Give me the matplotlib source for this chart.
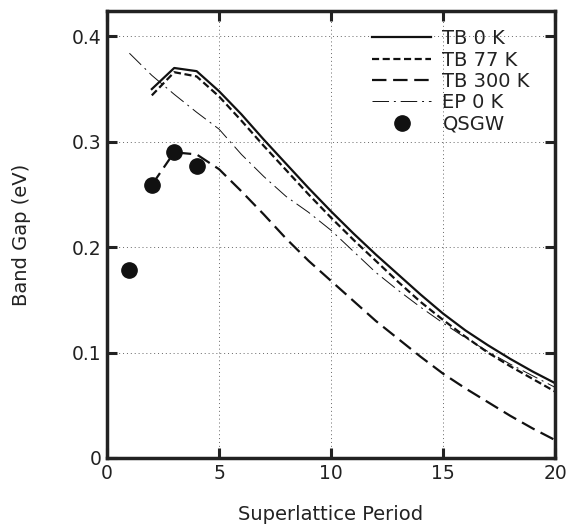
import matplotlib
matplotlib.use("Agg")
import matplotlib.pyplot as plt
from matplotlib.ticker import FuncFormatter

# Data
x_tb = [2, 3, 4, 5, 6, 7, 8, 9, 10, 11, 12, 13, 14, 15, 16, 17, 18, 19, 20]
tb_0k = [0.350, 0.370, 0.367, 0.348, 0.326, 0.302, 0.279, 0.256, 0.234, 0.213,
         0.193, 0.174, 0.155, 0.137, 0.121, 0.107, 0.094, 0.082, 0.071]
tb_77k = [0.344, 0.366, 0.362, 0.343, 0.320, 0.296, 0.273, 0.250, 0.228, 0.207,
          0.187, 0.167, 0.148, 0.131, 0.115, 0.100, 0.087, 0.075, 0.063]
tb_300k = [0.259, 0.290, 0.288, 0.274, 0.253, 0.231, 0.208, 0.187, 0.168, 0.149,
           0.130, 0.113, 0.096, 0.080, 0.066, 0.053, 0.040, 0.028, 0.017]
x_ep = [1, 2, 3, 4, 5, 6, 7, 8, 9, 10, 11, 12, 13, 14, 15, 16, 17, 18, 19, 20]
ep_0k = [0.384, 0.363, 0.345, 0.328, 0.312, 0.288, 0.267, 0.248, 0.233, 0.216,
         0.196, 0.176, 0.159, 0.143, 0.128, 0.114, 0.101, 0.089, 0.078, 0.067]
x_qsgw = [1, 2, 3, 4]
qsgw = [0.178, 0.259, 0.290, 0.277]

xticks = [0, 5, 10, 15, 20]
yticks = [0, 0.1, 0.2, 0.3, 0.4]

plt.rcParams['font.family'] = ['DejaVu Sans']
fig = plt.figure(figsize=(5.8, 5.27), dpi=100)
ax = fig.add_axes([0.1845, 0.131, 0.7725, 0.848])

ax.plot(x_tb, tb_0k, color='#111111', lw=1.6, ls='-', label='TB 0 K')
ax.plot(x_tb, tb_77k, color='#111111', lw=1.6, ls=(0, (3.2, 1.6)), label='TB 77 K')
ax.plot(x_tb, tb_300k, color='#111111', lw=1.6, ls=(0, (6.5, 3)), label='TB 300 K')
ax.plot(x_ep, ep_0k, color='#111111', lw=0.7, ls=(0, (17, 5, 2, 5)), label='EP 0 K')
ax.plot(x_qsgw, qsgw, ls='none', marker='o', ms=11, color='#111111', label='QSGW')

ax.set_xlim(0, 20)
ax.set_ylim(0, 0.424)
ax.set_xticks(xticks)
ax.set_yticks(yticks)
ax.yaxis.set_major_formatter(FuncFormatter(lambda v, p: '0' if v == 0 else f'{v:.1f}'))
ax.grid(True, ls=(0, (1, 3)), color='#666666', lw=0.7)
ax.tick_params(direction='in', length=7, width=2.2, top=True, right=True,
               labelsize=13.5, pad=4, colors='#222222')
for s in ax.spines.values():
    s.set_linewidth(2.5)
    s.set_color('#222222')

ax.set_xlabel('Superlattice Period', fontsize=14, color='#222222', labelpad=16)
ax.set_ylabel('Band Gap (eV)', fontsize=14, color='#222222', labelpad=29)

leg = ax.legend(loc='upper right', bbox_to_anchor=(1.0, 1.016), frameon=False,
                fontsize=14, handlelength=3.0, handletextpad=0.6,
                labelspacing=0.12, borderaxespad=0.9)
for t in leg.get_texts():
    t.set_color('#222222')

fig.savefig('out.png', dpi=100)
